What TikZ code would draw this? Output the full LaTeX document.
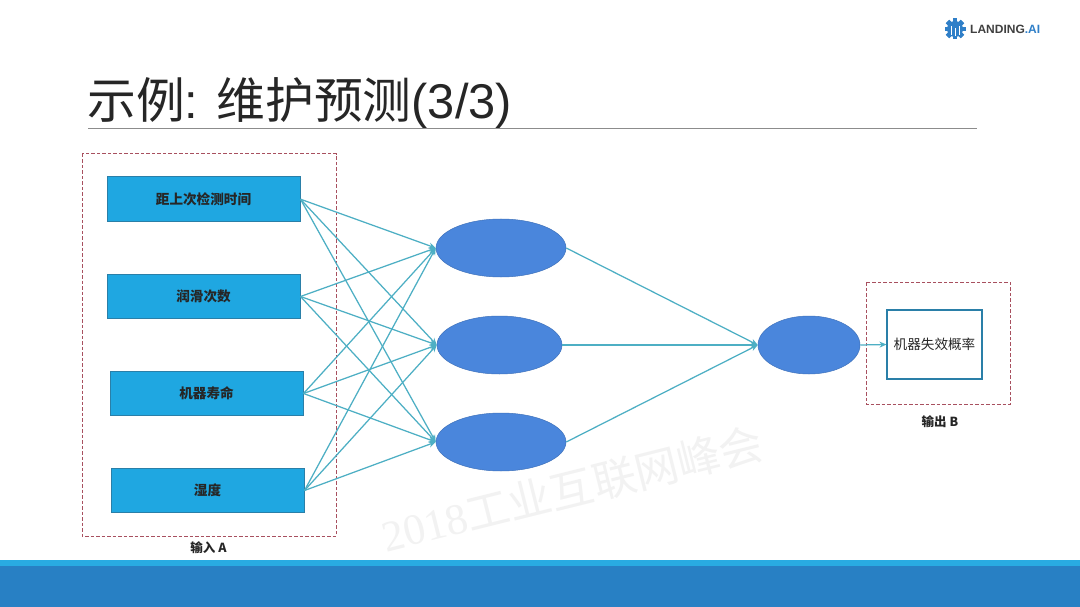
\documentclass[tikz,border=0pt]{standalone}
\usepackage{fontspec}
\setmainfont{Liberation Sans}
\newfontfamily\cjk{Noto Sans CJK SC}
\newfontfamily\wmlatin{Liberation Serif}
\usetikzlibrary{arrows.meta,shapes.geometric}
\definecolor{boxblue}{HTML}{1FA7E1}
\definecolor{boxline}{HTML}{2A7FA8}
\definecolor{ellblue}{HTML}{4A86DC}
\definecolor{edgeteal}{HTML}{4DAFC4}
\definecolor{dashred}{HTML}{A8505F}
\definecolor{footdark}{HTML}{2880C4}
\definecolor{footlight}{HTML}{29ABE2}
\definecolor{logoblue}{HTML}{2F7FC8}
\tikzset{
  inbox/.style={draw=boxline,line width=1pt,fill=boxblue,minimum width=193pt,minimum height=44.5pt,inner sep=0pt,font=\cjk\bfseries\fontsize{13.6}{15}\selectfont,text=black!85},
  hidden/.style={ellipse,fill=ellblue,draw=ellblue!85!black,line width=0.5pt,inner sep=0pt},
  link/.style={draw=edgeteal,line width=1.25pt,-{Stealth[length=7pt,width=6pt,fill=footlight]}},
  dashbox/.style={draw=dashred,line width=1pt,dash pattern=on 3.5pt off 2pt},
  captext/.style={font=\cjk\bfseries\fontsize{12.5}{14}\selectfont,text=black!85,inner sep=0pt}
}
\begin{document}
\begin{tikzpicture}[x=1pt,y=-1pt]
\useasboundingbox (0,0) rectangle (1080,607);
\fill[white] (0,0) rectangle (1080,607);
% footer
\fill[footdark] (0,566) rectangle (1080,607);
\fill[footlight] (0,560) rectangle (1080,566);
% watermark
\node[rotate=14,text=black!5,inner sep=0pt] (wm) at (572,489) {\fontsize{43.5}{46}\selectfont\wmlatin 2018\cjk 工业互联网峰会};
% logo
\foreach \a in {0,45,...,315}{\fill[logoblue,rotate around={\a:(955,29)}] (952.6,18.5) rectangle (957.4,39.5);}
\fill[logoblue] (955,29) circle (8pt);
\draw[white,line width=0.8pt] (955,36) -- (955,28) (951,35) -- (951,26) (959,35) -- (959,26);
\node[anchor=west,inner sep=0pt,font=\bfseries\fontsize{12}{13}\selectfont,text=black!75] (logo) at (970,29.5) {LANDING\textcolor{logoblue}{.AI}};
% title
\node[anchor=west,inner sep=0pt,font=\fontsize{48.8}{52}\selectfont,text=black!85] (title) at (87,103.5) {{\cjk 示例}: {\cjk 维护预测}(3/3)};
\draw[black!45,line width=0.8pt] (88,128.5) -- (977,128.5);
% dashed frames
\draw[dashbox] (82,154) rectangle (336,536);
\draw[dashbox] (866,282) rectangle (1010,404);
% inputs
\node[inbox] (i1) at (203.5,199.2) {距上次检测时间};
\node[inbox] (i2) at (203.5,296.5) {润滑次数};
\node[inbox] (i3) at (206.5,393.5) {机器寿命};
\node[inbox] (i4) at (207.5,490.5) {湿度};
% hidden
\node[hidden,minimum width=130pt,minimum height=58pt] (h1) at (501,248) {};
\node[hidden,minimum width=125pt,minimum height=58pt] (h2) at (499.5,345) {};
\node[hidden,minimum width=130pt,minimum height=58pt] (h3) at (501,442) {};
\node[hidden,minimum width=102pt,minimum height=58pt] (o) at (809,345) {};
% output
\node[draw=boxline,line width=1.1pt,fill=white,minimum width=95pt,minimum height=69pt,inner sep=0pt,font=\cjk\fontsize{13.6}{15}\selectfont,text=black!85] (out) at (934.5,344.5) {机器失效概率};
% links
\foreach \i in {i1,i2,i3,i4}{\foreach \h in {h1,h2,h3}{\draw[link] (\i.east) -- (\h.west);}}
\foreach \h in {h1,h2,h3}{\draw[link] (\h.east) -- (o.west);}
\draw[link] (o.east) -- (out.west);
% captions
\node[captext] (capa) at (208.5,547.5) {输入 A};
\node[captext] (capb) at (940,421.5) {输出 B};
\end{tikzpicture}
\end{document}
